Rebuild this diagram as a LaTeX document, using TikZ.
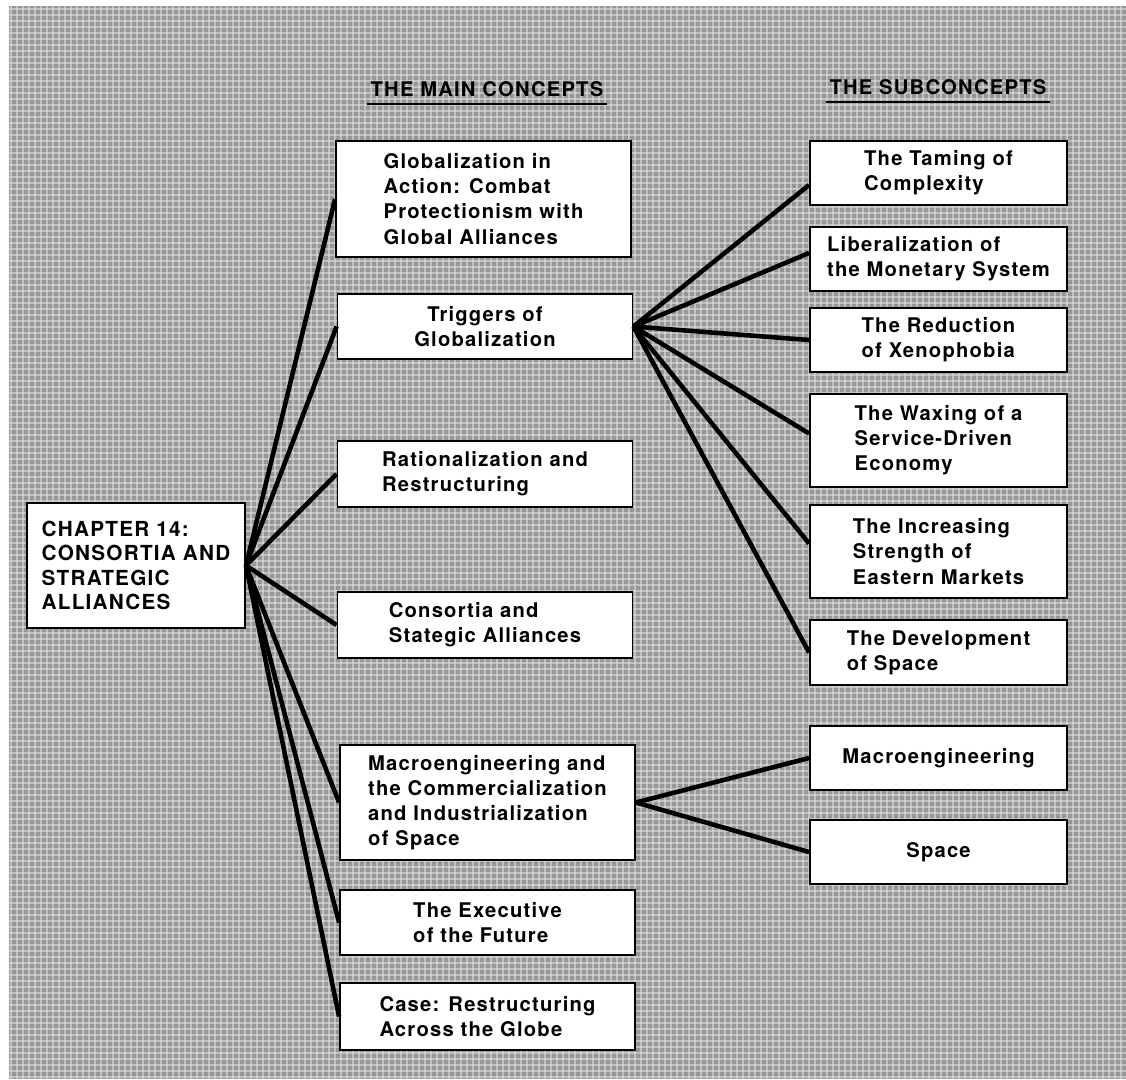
\documentclass[tikz,border=0pt]{standalone}
\usepackage{fontspec}
\setmainfont{TeX Gyre Heros}[LetterSpace=6]
\usepackage{xcolor}

\definecolor{clothgray}{RGB}{150,150,150}
\definecolor{threadwhite}{RGB}{228,228,228}

\tikzset{
    conceptbox/.style={draw, line width=1.1pt, fill=white, inner sep=0pt, align=left,
        font=\bfseries\fontsize{11.5}{14.3}\selectfont},
    mainbox/.style={conceptbox, minimum width=5.9cm},
    subbox/.style={conceptbox, minimum width=5.14cm},
    chapterbox/.style={conceptbox, minimum width=4.36cm, minimum height=2.5cm,
        font=\bfseries\fontsize{11.8}{14}\selectfont},
    heading/.style={font=\bfseries\fontsize{11.5}{13}\selectfont, inner xsep=2pt, inner ysep=4pt},
    link/.style={line width=2.6pt}
}

\begin{document}
\begin{tikzpicture}[x=0.02cm, y=-0.02cm]
    \useasboundingbox (0,0) rectangle (1126,1079);

    % Cloth background
    \fill[white] (0,0) rectangle (1126,1079);
    \fill[clothgray] (9,6) rectangle (1126,1079);
    \foreach \gx in {11,17,...,1125} {
        \draw[threadwhite, opacity=0.55, line width=0.7pt] (\gx,6) -- (\gx,1079);
    }
    \foreach \gy in {9,15,...,1077} {
        \draw[threadwhite, opacity=0.55, line width=0.7pt] (9,\gy) -- (1126,\gy);
    }

    % Headings
    \node[heading] (mainhead) at (487,89) {THE MAIN CONCEPTS};
    \draw[line width=0.9pt] (mainhead.south west) -- (mainhead.south east);
    \node[heading] (subhead) at (938,87) {THE SUBCONCEPTS};
    \draw[line width=0.9pt] (subhead.south west) -- (subhead.south east);

    % Chapter
    \node[chapterbox] (chap) at (136,565.5) {CHAPTER 14:\\CONSORTIA AND\\STRATEGIC\\ALLIANCES};

    % Main concepts
    \node[mainbox, minimum height=2.32cm] (glob) at (483.5,199)
        {Globalization in\\Action: Combat\\Protectionism with\\Global Alliances};
    \node[mainbox, minimum height=1.3cm, align=center] (trig) at (485,326.5)
        {Triggers of\\Globalization};
    \node[mainbox, minimum height=1.32cm] (rat) at (485,474)
        {Rationalization and\\Restructuring};
    \node[mainbox, minimum height=1.32cm] (cons) at (485,625)
        {Consortia and\\Stategic Alliances};
    \node[mainbox, minimum height=2.3cm] (macro) at (487.5,802.5)
        {Macroengineering and\\the Commercialization\\and Industrialization\\of Space};
    \node[mainbox, minimum height=1.3cm] (exec) at (487.5,922.5)
        {The Executive\\of the Future};
    \node[mainbox, minimum height=1.34cm] (case) at (487.5,1016.5)
        {Case: Restructuring\\Across the Globe};

    % Subconcepts
    \node[subbox, minimum height=1.28cm] (tame) at (938.5,173) {The Taming of\\Complexity};
    \node[subbox, minimum height=1.28cm] (lib) at (938.5,259) {Liberalization of\\the Monetary System};
    \node[subbox, minimum height=1.28cm] (xeno) at (938.5,340) {The Reduction\\of Xenophobia};
    \node[subbox, minimum height=1.86cm] (wax) at (938.5,440.5) {The Waxing of a\\Service-Driven\\Economy};
    \node[subbox, minimum height=1.86cm] (eastmk) at (938.5,551.5) {The Increasing\\Strength of\\Eastern Markets};
    \node[subbox, minimum height=1.3cm] (dev) at (938.5,652.5) {The Development\\of Space};
    \node[subbox, minimum height=1.28cm] (mac) at (938.5,758) {Macroengineering};
    \node[subbox, minimum height=1.28cm] (space) at (938.5,852) {Space};

    % Connectors
    \foreach \m in {glob,trig,rat,cons,macro,exec,case} {
        \draw[link] (chap.east) -- (\m.west);
    }
    \foreach \s/\dy in {tame/-0.24,lib/0.12,xeno/0,wax/0.14,eastmk/0.16,dev/0} {
        \draw[link] (trig.east) -- ([yshift=\dy cm]\s.west);
    }
    \foreach \s in {mac,space} {
        \draw[link] (macro.east) -- (\s.west);
    }
\end{tikzpicture}
\end{document}
